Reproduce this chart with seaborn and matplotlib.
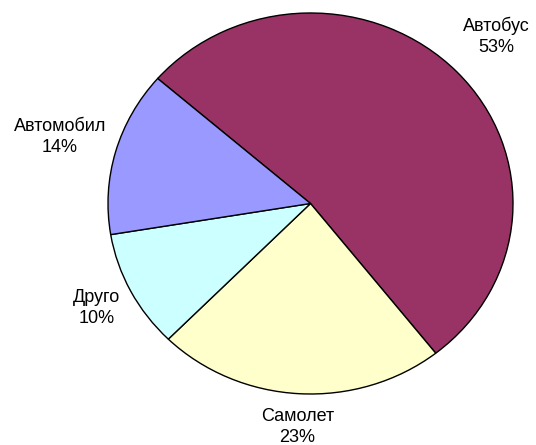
import numpy as np
import matplotlib
matplotlib.use("Agg")
import matplotlib.pyplot as plt
import seaborn as sns

# data
categories = ["Автобус", "Самолет", "Друго", "Автомобил"]
shares = [53, 23, 10, 14]
colors = ["#993366", "#FFFFCC", "#CCFFFF", "#9999FF"]
# how far out each label sits (in pie radii)
label_dist = [1.27, 1.175, 1.19, 1.285]

sns.set_style("white")
plt.rcParams["font.family"] = ["Liberation Sans", "DejaVu Sans"]

fig = plt.figure(figsize=(5.36, 4.45), dpi=100)
# the pie in the original is slightly squashed -> stretch axes
ax = fig.add_axes([108 / 536, 51 / 445, 405 / 536, 381 / 445])

wedges, _ = ax.pie(shares, colors=colors, startangle=139, counterclock=False,
                   wedgeprops=dict(edgecolor="black", linewidth=1.0))
ax.set_aspect("auto")
ax.set_xlim(-1, 1)
ax.set_ylim(-1, 1)
ax.axis("off")

total = sum(shares)
for w, name, val, d in zip(wedges, categories, shares, label_dist):
    ang = np.deg2rad((w.theta1 + w.theta2) / 2)
    ax.text(d * np.cos(ang), d * np.sin(ang), f"{name}\n{val / total * 100:.0f}%",
            ha="center", va="center", fontsize=13, linespacing=1.3, color="black")

fig.savefig("out.png", dpi=100)
